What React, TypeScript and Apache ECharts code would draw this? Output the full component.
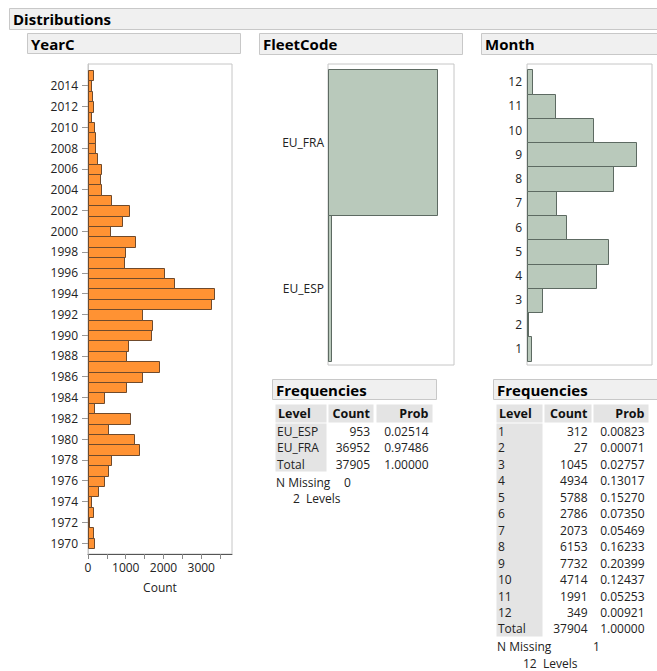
import React, { useEffect, useRef } from 'react';
import * as echarts from 'echarts';

// ---------- DATA ----------
const yearValues = [
  1970, 1971, 1972, 1973, 1974, 1975, 1976, 1977, 1978, 1979,
  1980, 1981, 1982, 1983, 1984, 1985, 1986, 1987, 1988, 1989,
  1990, 1991, 1992, 1993, 1994, 1995, 1996, 1997, 1998, 1999,
  2000, 2001, 2002, 2003, 2004, 2005, 2006, 2007, 2008, 2009,
  2010, 2011, 2012, 2013, 2014, 2015,
];
const yearCounts = [
  168, 132, 26, 132, 80, 256, 432, 538, 600, 1358,
  1208, 538, 1102, 168, 432, 1005, 1437, 1870, 1005, 1067,
  1675, 1702, 1437, 3254, 3342, 2275, 2011, 952, 988, 1235,
  573, 891, 1093, 600, 344, 309, 344, 229, 194, 194,
  168, 80, 141, 115, 80, 132,
];
const yearTickLabels = [
  1970, 1972, 1974, 1976, 1978, 1980, 1982, 1984, 1986, 1988, 1990, 1992,
  1994, 1996, 1998, 2000, 2002, 2004, 2006, 2008, 2010, 2012, 2014,
];
const countTicks = [0, 500, 1000, 1500, 2000, 2500, 3000, 3500];
const countTickLabels = [0, 1000, 2000, 3000];

const fleetLevels = ['EU_ESP', 'EU_FRA'];
const fleetCounts = [953, 36952];
const fleetProbs = ['0.02514', '0.97486'];
const fleetTotal = 37905;
const fleetMissing = 0;

const monthLevels = [1, 2, 3, 4, 5, 6, 7, 8, 9, 10, 11, 12];
const monthCounts = [312, 27, 1045, 4934, 5788, 2786, 2073, 6153, 7732, 4714, 1991, 349];
const monthProbs = [
  '0.00823', '0.00071', '0.02757', '0.13017', '0.15270', '0.07350',
  '0.05469', '0.16233', '0.20399', '0.12437', '0.05253', '0.00921',
];
const monthTotal = 37904;
const monthMissing = 1;

// ---------- STYLE ----------
const FONT = '"Open Sans", "Noto Sans", sans-serif';
const ORANGE = '#FF9233';
const ORANGE_EDGE = '#6f4a2c';
const GREEN = '#B9C9BB';
const GREEN_EDGE = '#5d6a62';
const FRAME = '#c6c6c6';
const HEAD_FILL = '#f0f0f0';
const HEAD_EDGE = '#c8c8c8';
const CELL = '#e4e4e4';
const TXT = '#222';

function makeRenderer(fill: string, stroke: string) {
  return (params: any, api: any) => {
    const c = api.value(0);
    const v = api.value(1);
    const p1 = api.coord([0, v + 0.5]);
    const p2 = api.coord([c, v - 0.5]);
    return {
      type: 'rect',
      shape: {
        x: Math.round(p1[0]) + 0.5,
        y: Math.round(p1[1]) + 0.5,
        width: Math.max(Math.round(p2[0]) - Math.round(p1[0]), 1),
        height: Math.round(p2[1]) - Math.round(p1[1]),
      },
      style: { fill, stroke, lineWidth: 1 },
    };
  };
}

function txt(x: number, y: number, text: string, opts: any = {}) {
  return {
    type: 'text',
    x,
    y,
    silent: true,
    style: {
      text,
      fill: opts.fill || TXT,
      font: `${opts.bold ? 'bold ' : ''}${opts.size || 12}px ${FONT}`,
      textAlign: opts.align || 'left',
      textVerticalAlign: 'middle',
      verticalAlign: 'middle',
    },
  };
}

function box(x: number, y: number, w: number, h: number, fill: string, stroke?: string) {
  return {
    type: 'rect',
    silent: true,
    shape: { x: x + 0.5, y: y + 0.5, width: w, height: h },
    style: { fill, stroke: stroke || 'none', lineWidth: 1 },
  };
}

function header(x: number, y: number, w: number, h: number, title: string) {
  return [box(x, y, w, h, HEAD_FILL, HEAD_EDGE), txt(x + 4, y + h / 2 + 0.5, title, { bold: true, size: 15, fill: '#000' })];
}

function freqTable(
  x0: number,
  levels: string[],
  counts: number[],
  probs: string[],
  total: number,
  missing: number,
  cols: { lvlW: number; cntX: number; cntW: number; prbX: number; prbW: number; cntR: number; prbR: number; missX: number; levX: number },
  boxW: number,
) {
  const els: any[] = [];
  els.push(...header(x0 - 3, 379, boxW, 20, 'Frequencies'));
  els.push(box(x0, 404, cols.lvlW, 18, CELL));
  els.push(box(cols.cntX, 404, cols.cntW, 18, CELL));
  els.push(box(cols.prbX, 404, cols.prbW, 18, CELL));
  els.push(txt(x0 + 3, 413.5, 'Level', { bold: true, size: 12.5, fill: '#111' }));
  els.push(txt(cols.cntR, 413.5, 'Count', { bold: true, size: 12.5, fill: '#111', align: 'right' }));
  els.push(txt(cols.prbR, 413.5, 'Prob', { bold: true, size: 12.5, fill: '#111', align: 'right' }));
  const step = 16.45;
  const nRows = levels.length + 1;
  els.push(box(x0, 423, cols.lvlW, Math.round(nRows * step) - 1, CELL));
  levels.forEach((l, i) => {
    const y = 431.5 + i * step;
    els.push(txt(x0 + 2, y, String(l)));
    els.push(txt(cols.cntR, y, String(counts[i]), { align: 'right' }));
    els.push(txt(cols.prbR, y, probs[i], { align: 'right' }));
  });
  const ty = 431.5 + levels.length * step;
  els.push(txt(x0 + 2, ty, 'Total'));
  els.push(txt(cols.cntR, ty, String(total), { align: 'right' }));
  els.push(txt(cols.prbR, ty, '1.00000', { align: 'right' }));
  const my = ty + 18;
  els.push(txt(x0 + 1, my, 'N Missing'));
  els.push(txt(cols.missX, my, String(missing)));
  els.push(txt(cols.levX, my + 16.5, `${levels.length}  Levels`));
  return els;
}

export default function App() {
  const ref = useRef<HTMLDivElement>(null);

  useEffect(() => {
    if (!ref.current) return;
    const chart = echarts.init(ref.current, undefined, { renderer: 'svg' });

    const graphics: any[] = [
      ...header(9, 8, 660, 21, 'Distributions'),
      ...header(27, 33, 213, 20, 'YearC'),
      ...header(259, 33, 203, 21, 'FleetCode'),
      ...header(481, 33, 190, 21, 'Month'),
      ...freqTable(
        275,
        fleetLevels,
        fleetCounts,
        fleetProbs,
        fleetTotal,
        fleetMissing,
        { lvlW: 51, cntX: 328, cntW: 45, prbX: 376, prbW: 56, cntR: 370, prbR: 428.5, missX: 344, levX: 293 },
        164,
      ),
      ...freqTable(
        496,
        monthLevels.map(String),
        monthCounts,
        monthProbs,
        monthTotal,
        monthMissing,
        { lvlW: 46, cntX: 544, cntW: 47, prbX: 593, prbW: 55, cntR: 587.5, prbR: 644.5, missX: 593, levX: 523 },
        175,
      ),
    ];

    const plain = (v: number) => String(Math.round(v));

    const option: any = {
      animation: false,
      backgroundColor: '#fff',
      textStyle: { fontFamily: FONT },
      grid: [
        { left: 88, top: 64, width: 144, height: 490, show: true, borderColor: FRAME, borderWidth: 1, backgroundColor: '#fff' },
        { left: 328, top: 64, width: 126, height: 301, show: true, borderColor: FRAME, borderWidth: 1, backgroundColor: '#fff' },
        { left: 527, top: 64, width: 125, height: 301, show: true, borderColor: FRAME, borderWidth: 1, backgroundColor: '#fff' },
      ],
      xAxis: [
        {
          gridIndex: 0,
          type: 'value',
          min: 0,
          max: 3815,
          name: 'Count',
          nameLocation: 'middle',
          nameGap: 27,
          nameTextStyle: { fontSize: 12, color: TXT, fontFamily: FONT },
          axisLine: { show: true, onZero: false, lineStyle: { color: '#555', width: 1 } },
          axisTick: { show: true, length: 5, customValues: countTicks, lineStyle: { color: '#888' } },
          axisLabel: { customValues: countTickLabels, formatter: plain, fontSize: 12, color: TXT, margin: 7, fontFamily: FONT },
          splitLine: { show: false },
        },
        { gridIndex: 1, type: 'value', min: 0, max: 42830, show: false, splitLine: { show: false } },
        { gridIndex: 2, type: 'value', min: 0, max: 8892, show: false, splitLine: { show: false } },
      ],
      yAxis: [
        {
          gridIndex: 0,
          type: 'value',
          min: 1968.95,
          max: 2016.08,
          axisLine: { show: true, lineStyle: { color: FRAME } },
          axisTick: { show: true, length: 6, customValues: yearTickLabels, lineStyle: { color: '#999' } },
          axisLabel: { customValues: yearTickLabels, formatter: plain, fontSize: 12, color: TXT, margin: 10, fontFamily: FONT },
          splitLine: { show: false },
        },
        {
          gridIndex: 1,
          type: 'value',
          min: 0.4726,
          max: 2.536,
          axisLine: { show: false },
          axisTick: { show: false },
          axisLabel: {
            customValues: [1, 2],
            formatter: (v: number) => fleetLevels[Math.round(v) - 1] || '',
            fontSize: 12,
            color: TXT,
            margin: 4,
            fontFamily: FONT,
          },
          splitLine: { show: false },
        },
        {
          gridIndex: 2,
          type: 'value',
          min: 0.323,
          max: 12.718,
          axisLine: { show: false },
          axisTick: { show: false },
          axisLabel: { customValues: monthLevels, formatter: plain, fontSize: 12, color: TXT, margin: 5, fontFamily: FONT },
          splitLine: { show: false },
        },
      ],
      series: [
        {
          type: 'custom',
          xAxisIndex: 0,
          yAxisIndex: 0,
          renderItem: makeRenderer(ORANGE, ORANGE_EDGE),
          data: yearValues.map((y, i) => [yearCounts[i], y]),
          encode: { x: 0, y: 1 },
          silent: true,
        },
        {
          type: 'custom',
          xAxisIndex: 1,
          yAxisIndex: 1,
          renderItem: makeRenderer(GREEN, GREEN_EDGE),
          data: fleetLevels.map((_, i) => [fleetCounts[i], i + 1]),
          encode: { x: 0, y: 1 },
          silent: true,
        },
        {
          type: 'custom',
          xAxisIndex: 2,
          yAxisIndex: 2,
          renderItem: makeRenderer(GREEN, GREEN_EDGE),
          data: monthLevels.map((m, i) => [monthCounts[i], m]),
          encode: { x: 0, y: 1 },
          silent: true,
        },
      ],
      graphic: graphics,
    };

    chart.setOption(option);
    return () => chart.dispose();
  }, []);

  return <div ref={ref} style={{ position: 'absolute', left: 0, top: 0, width: 657, height: 671 }} />;
}
